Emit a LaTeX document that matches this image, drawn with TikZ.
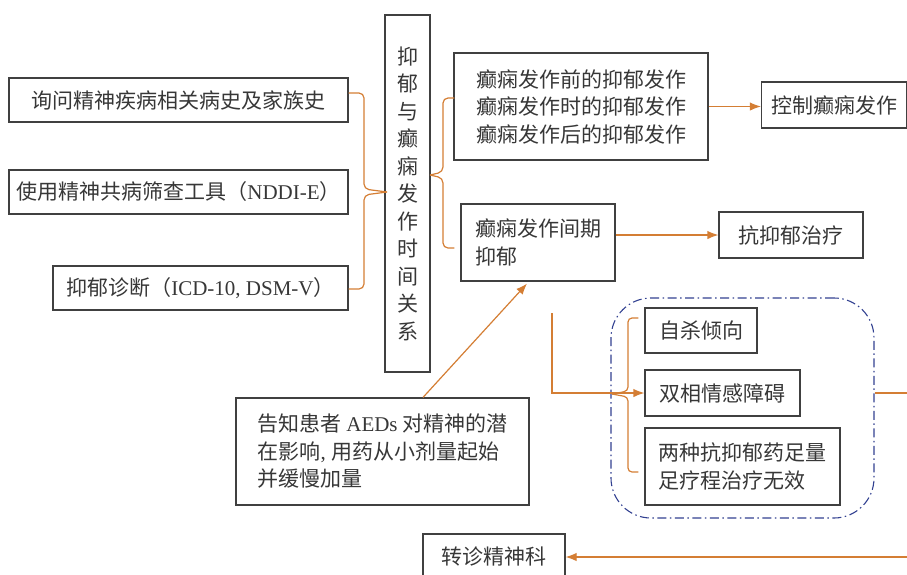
\documentclass[tikz,border=0pt]{standalone}
\usepackage{fontspec}
\setmainfont{Liberation Serif}
\newfontfamily\cjk{Noto Sans CJK SC}
\usetikzlibrary{arrows.meta,calc}
\definecolor{org}{RGB}{212,126,52}
\definecolor{bx}{RGB}{64,64,64}
\definecolor{tx}{RGB}{55,55,55}
\definecolor{dbl}{RGB}{50,65,145}
\newcommand\latn[1]{{\rmfamily #1}}
\begin{document}
\begin{tikzpicture}[x=1pt,y=-1pt,
  box/.style={draw=bx, line width=1.2pt, text=tx, inner sep=0pt, align=center,
    font=\cjk\fontsize{21}{27.5}\selectfont},
  link/.style={draw=org, line width=1.2pt},
  arr/.style={link, -{Latex[length=11pt,width=8.5pt]}},
  grpbox/.style={draw=dbl, line width=1.1pt, dash pattern=on 9pt off 3.5pt on 1.5pt off 3.5pt, rounded corners=40pt}]
\useasboundingbox (0,0) rectangle (907,574);
\clip (0,0) rectangle (907,574);

\node[box, minimum width=339pt, minimum height=44pt] (b1) at (178.5,100) {询问精神疾病相关病史及家族史};
\node[box, minimum width=339pt, minimum height=44pt] (b2) at (178.5,192) {使用精神共病筛查工具（\latn{NDDI-E}）};
\node[box, minimum width=295pt, minimum height=44pt] (b3) at (200.5,288) {抑郁诊断（\latn{ICD-10, DSM-V}）};
\node[box, minimum width=45pt, minimum height=357pt] (vt) at (407.5,193.5) {抑\\郁\\与\\癫\\痫\\发\\作\\时\\间\\关\\系};
\node[box, minimum width=254pt, minimum height=107pt, align=left] (b4) at (581,106.5) {癫痫发作前的抑郁发作\\癫痫发作时的抑郁发作\\癫痫发作后的抑郁发作};
\node[box, minimum width=154pt, minimum height=77pt, align=left] (b5) at (538,242.5) {癫痫发作间期\\抑郁};
\node[box, minimum width=145pt, minimum height=46pt] (ctrl) at (834,105) {控制癫痫发作};
\node[box, minimum width=144pt, minimum height=46pt] (anti) at (791,235) {抗抑郁治疗};
\node[box, minimum width=293pt, minimum height=107pt, align=left] (inf) at (382.5,451.5) {告知患者 \latn{AEDs} 对精神的潜\\在影响\latn{, }用药从小剂量起始\\并缓慢加量};
\node[grpbox, minimum width=263pt, minimum height=220pt] (grp) at (742.5,408) {};
\node[box, minimum width=112pt, minimum height=45pt] (sui) at (701,330.5) {自杀倾向};
\node[box, minimum width=155pt, minimum height=46pt] (bip) at (722.5,393) {双相情感障碍};
\node[box, minimum width=195pt, minimum height=77pt, align=left] (two) at (742.5,466.5) {两种抗抑郁药足量\\足疗程治疗无效};
\node[box, minimum width=142pt, minimum height=44pt] (ref) at (494,556) {转诊精神科};

% left brace
\coordinate (lt) at (387,192);
\draw[link, rounded corners=5pt] ($(b1.east)+(0,-7)$) -- (364,93) -- (364,189) -- (lt);
\draw[link, rounded corners=5pt] (lt) -- (364,195) -- (364,289) -- ($(b3.east)+(0,1)$);
% right brace
\coordinate (rt) at (430,175);
\draw[link, rounded corners=5pt] ($(b4.west)+(1,-8.5)$) -- (443,98) -- (443,172) -- (rt);
\draw[link, rounded corners=5pt] (rt) -- (443,178) -- (443,248) -- ($(b5.west)+(-6,5.5)$);
% inner brace
\coordinate (it) at (612,394);
\draw[link, rounded corners=4pt] ($(sui.west)+(-6,-12.5)$) -- (628,318) -- (628,391) -- (it);
\draw[link, rounded corners=4pt] (it) -- (628,397) -- (628,472) -- ($(two.west)+(-6,5.5)$);

% arrows
\draw[arr] (b4.east) -- (b4.east -| ctrl.west);
\draw[arr] (b5.east |- anti.west) -- (anti.west);
\coordinate (vs) at (552,313);
\draw[arr] (vs) |- (bip.west);
\coordinate (ge) at (908,393);
\draw[link] (grp.east |- ge) -- (ge);
\coordinate (re) at (908,557);
\draw[arr] (re) -- (re -| ref.east);
\draw[arr] ($(inf.north)+(40.5,0)$) -- ($(b5.south)+(-11,2)$);
\end{tikzpicture}
\end{document}
